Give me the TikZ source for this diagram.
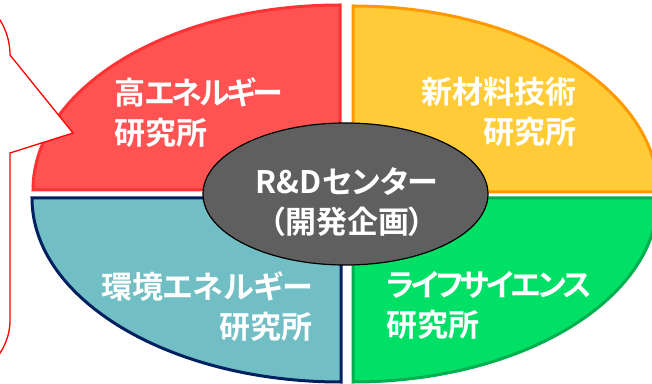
\documentclass[tikz,border=0pt]{standalone}
\usepackage{fontspec}
\usetikzlibrary{shapes.geometric}
\newfontfamily\jp{Noto Sans CJK JP Bold}[RawFeature=+palt]
\newfontfamily\jpk{Noto Sans CJK JP Bold}[RawFeature=+palt, LetterSpace=-10]
\definecolor{redfill}{HTML}{FF5252}
\definecolor{redline}{HTML}{FF3333}
\definecolor{yelfill}{HTML}{FFCC38}
\definecolor{yelline}{HTML}{FF9900}
\definecolor{tealfill}{HTML}{72BEC5}
\definecolor{tealline}{HTML}{002060}
\definecolor{grnfill}{HTML}{00DF66}
\definecolor{grnline}{HTML}{00B050}
\definecolor{cgray}{HTML}{5F5F5F}
\tikzset{
  quarter/.style={line width=3pt, line join=miter},
  lbl/.style={text=white, font=\jp\fontsize{31}{40}\selectfont, inner sep=0pt},
}
\begin{document}
\begin{tikzpicture}[x=1pt,y=1pt]
\useasboundingbox (0,0) rectangle (652,383);
\clip (0,0) rectangle (652,383);
% quarters
\path[quarter, fill=redfill, draw=redline] (340,193) -- (33,193) arc[start angle=180, end angle=90, x radius=307, y radius=185] -- cycle;
\path[quarter, fill=yelfill, draw=yelline] (353,191) -- (353,377) arc[start angle=90, end angle=0, x radius=305, y radius=186] -- cycle;
\path[quarter, fill=tealfill, draw=tealline] (341,185) -- (32,185) arc[start angle=180, end angle=270, x radius=309, y radius=184] -- cycle;
\path[quarter, fill=grnfill, draw=grnline] (353,185) -- (353,1) arc[start angle=270, end angle=360, x radius=305, y radius=184] -- cycle;
% callout
\coordinate (tip) at (73,250);
\path[draw=red, fill=white, line width=1.3pt] (-90,394) -- (-56,394) arc[start angle=90, end angle=0, radius=66] -- (tip) -- (10,230) -- (10,63) arc[start angle=0, end angle=-90, radius=60] -- (-90,3) -- cycle;
% center ellipse
\node[ellipse, draw=black, fill=cgray, line width=1.2pt, minimum width=285pt, minimum height=142pt, inner sep=0pt] (c) at (345.5,189) {};
\node[lbl, align=center] (ct) at (347,180.5) {R\&Dセンター\\（開発企画）};
% labels
\node[lbl, align=left, anchor=west] (r) at (114,270) {高{\jpk エネルギー}\\研究所};
\node[lbl, align=right, anchor=east] (y) at (577,271) {新材料技術\\研究所};
\node[lbl, align=right, anchor=east] (t) at (313,76) {環境エネルギー\\研究所};
\node[lbl, align=left, anchor=west] (g) at (386,78) {{\jpk ライフサイエンス}\\研究所};
\end{tikzpicture}
\end{document}
